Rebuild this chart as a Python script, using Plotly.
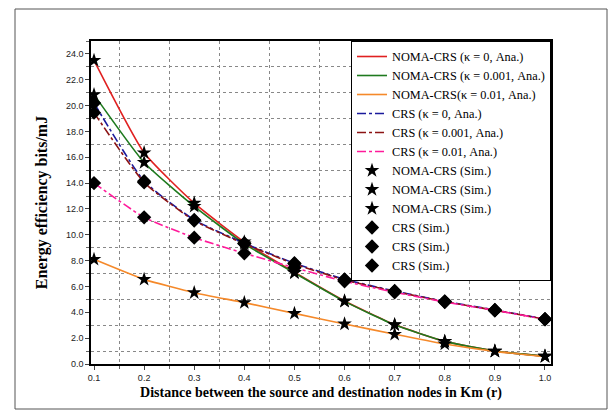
import plotly.graph_objects as go

x = [0.1, 0.2, 0.3, 0.4, 0.5, 0.6, 0.7, 0.8, 0.9, 1.0]

noma_k0 = [23.5, 16.35, 12.45, 9.45, 7.1, 4.88, 3.05, 1.75, 1.0, 0.6]
noma_k001 = [20.85, 15.6, 12.2, 9.3, 7.05, 4.85, 3.03, 1.75, 1.0, 0.6]
noma_k01 = [8.1, 6.55, 5.52, 4.75, 3.92, 3.1, 2.3, 1.55, 0.98, 0.57]
crs_k0 = [20.2, 14.15, 11.15, 9.35, 7.8, 6.55, 5.65, 4.85, 4.18, 3.48]
crs_k001 = [19.45, 14.05, 11.1, 9.3, 7.75, 6.5, 5.62, 4.83, 4.16, 3.47]
crs_k01 = [14.0, 11.35, 9.78, 8.57, 7.45, 6.4, 5.55, 4.8, 4.15, 3.46]

line_names = ["NOMA-CRS (κ = 0, Ana.)", "NOMA-CRS (κ = 0.001, Ana.)", "NOMA-CRS(κ = 0.01, Ana.)",
              "CRS (κ = 0, Ana.)", "CRS (κ = 0.001, Ana.)", "CRS (κ = 0.01, Ana.)"]
sim_names = ["NOMA-CRS (Sim.)"] * 3 + ["CRS (Sim.)"] * 3

series = [noma_k0, noma_k001, noma_k01, crs_k0, crs_k001, crs_k01]
colors = ["#e02020", "#1e7a1e", "#f5892a", "#1a1a9c", "#8c1414", "#ff1a9a"]
dashes = ["solid", "solid", "solid", "dashdot", "dashdot", "dashdot"]
symbols = ["star"] * 3 + ["diamond"] * 3

fig = go.Figure()
for ys, name, c, d in zip(series, line_names, colors, dashes):
    fig.add_trace(go.Scatter(x=x, y=ys, mode="lines", name=name,
                             line=dict(color=c, width=1.6, dash=d, shape="spline", smoothing=0.5)))
for ys, name, s in zip(series, sim_names, symbols):
    fig.add_trace(go.Scatter(x=x, y=ys, mode="markers", name=name,
                             marker=dict(symbol=s, size=11, color="black")))

tickfont = dict(family="Liberation Sans", size=9, color="#222")
serif = "Liberation Serif"
fig.update_xaxes(range=[0.094, 1.012], tick0=0.1, dtick=0.1, tickformat=".1f",
                 showgrid=False, zeroline=False, showline=True, linecolor="black", linewidth=1.5,
                 mirror=True, ticks="outside", ticklen=4, tickcolor="#444", tickfont=tickfont,
                 minor=dict(dtick=0.05, tick0=0.1, showgrid=True, gridcolor="#888", griddash="dot",
                            gridwidth=1, ticks="outside", ticklen=3, tickcolor="#666"),
                 title=dict(text="<b>Distance between the source and destination nodes in Km (r)</b>",
                            font=dict(family=serif, size=14, color="black"),
                            standoff=6))
fig.update_yaxes(range=[0, 25], tick0=0, dtick=2, tickformat=".1f",
                 showgrid=False, zeroline=False, showline=True, linecolor="black", linewidth=1.5,
                 mirror=True, ticks="outside", ticklen=4, tickcolor="#444", tickfont=tickfont,
                 minor=dict(dtick=1, tick0=0, showgrid=True, gridcolor="#888", griddash="dot",
                            gridwidth=1, ticks="outside", ticklen=3, tickcolor="#666"),
                 title=dict(text="<b>Energy efficiency bits/mJ</b>",
                            font=dict(family=serif, size=16, color="black"),
                            standoff=14))

fig.update_layout(
    width=608, height=410,
    margin=dict(l=91, r=57, t=41, b=46),
    paper_bgcolor="white", plot_bgcolor="white",
    showlegend=True,
    legend=dict(x=1, y=1, xanchor="right", yanchor="top",
                bgcolor="white", bordercolor="black", borderwidth=1,
                font=dict(family=serif, size=12.3, color="black"),
                tracegroupgap=0, itemwidth=30),
    shapes=[dict(type="rect", xref="paper", yref="paper",
                 x0=(15 - 91) / 460, x1=(607 - 91) / 460,
                 y0=(364 - 409) / 323, y1=(364 - 9) / 323,
                 line=dict(color="#555", width=1), fillcolor="rgba(0,0,0,0)", layer="below")],
)

fig.write_html("out.html")
